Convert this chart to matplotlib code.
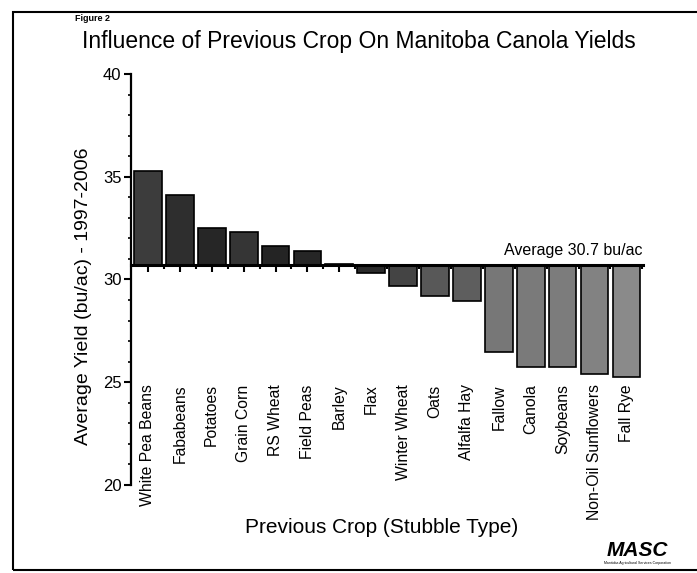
import matplotlib
matplotlib.use("Agg")
import matplotlib.pyplot as plt
from matplotlib.patches import Rectangle
from matplotlib.ticker import MultipleLocator
import numpy as np

plt.rcParams['font.family'] = ['Liberation Sans', 'DejaVu Sans']

# data
crops = ["White Pea Beans", "Fababeans", "Potatoes", "Grain Corn", "RS Wheat",
         "Field Peas", "Barley", "Flax", "Winter Wheat", "Oats", "Alfalfa Hay",
         "Fallow", "Canola", "Soybeans", "Non-Oil Sunflowers", "Fall Rye"]
yields = [35.3, 34.1, 32.5, 32.3, 31.65, 31.4, 30.75, 30.3, 29.7, 29.2, 28.95,
          26.45, 25.75, 25.75, 25.4, 25.25]
average = 30.7

# darker for the top crops, lighter grey toward the poor ones
bar_colors = ["#3c3c3c", "#2e2e2e", "#262626", "#353535", "#242424", "#262626",
              "#222222", "#2a2a2a", "#444444", "#585858", "#5e5e5e", "#777777",
              "#7a7a7a", "#7c7c7c", "#828282", "#8a8a8a"]

fig = plt.figure(figsize=(6.97, 5.73), dpi=100)
ax = fig.add_axes([0.188, 0.1536, 0.7345, 0.7173])

x = np.arange(len(crops))
heights = np.array(yields) - average
ax.bar(x, heights, bottom=average, width=0.87, color=bar_colors,
       edgecolor="black", linewidth=1.2, zorder=2)

ax.set_xlim(-0.53, 15.52)
ax.set_ylim(20, 40)

# y axis: left spine only, outward ticks
ax.spines['top'].set_visible(False)
ax.spines['right'].set_visible(False)
ax.spines['left'].set_linewidth(1.6)
ax.spines['left'].set_bounds(20, 40)
ax.yaxis.set_major_locator(MultipleLocator(5))
ax.yaxis.set_minor_locator(MultipleLocator(1))
ax.tick_params(axis='y', which='major', direction='out', length=5, width=1.5,
               labelsize=12, pad=2)
ax.tick_params(axis='y', which='minor', direction='out', length=2.5, width=1.2)

# x axis sits on the average line
ax.spines['bottom'].set_position(('data', average))
ax.spines['bottom'].set_linewidth(2.2)
ax.spines['bottom'].set_zorder(3)
ax.set_xticks(x)
ax.set_xticks(x + 0.5, minor=True)
ax.tick_params(axis='x', which='major', direction='out', length=5, width=1.5,
               labelbottom=False)
ax.tick_params(axis='x', which='minor', direction='out', length=3, width=1.5,
               labelbottom=False)

for i, name in enumerate(crops):
    ax.text(i, 24.9, name, rotation=90, ha='center', va='top', fontsize=11.3)

ax.text(15.5, average + 0.35, "Average 30.7 bu/ac", ha='right', va='bottom',
        fontsize=11.5)

ax.set_ylabel("Average Yield (bu/ac) - 1997-2006", fontsize=14)
ax.yaxis.set_label_coords(-0.076, 0.46)

fig.text(0.547, 0.08, "Previous Crop (Stubble Type)", ha='center', va='center',
         fontsize=15)
fig.text(0.515, 0.927, "Influence of Previous Crop On Manitoba Canola Yields",
         ha='center', va='center', fontsize=16.5)
fig.text(0.107, 0.968, "Figure 2", ha='left', va='center', fontsize=6.5,
         fontweight='bold')

# logo
fig.text(0.915, 0.04, "MASC", ha='center', va='center', fontsize=15,
         fontweight='bold', style='italic')
fig.text(0.915, 0.017, "Manitoba Agricultural Services Corporation",
         ha='center', va='center', fontsize=2.5)

# page frame
fig.patches.append(Rectangle((0.0187, 0.005), 1.0, 0.974, transform=fig.transFigure,
                             fill=False, edgecolor="black", linewidth=1.5))

fig.savefig("out.png", dpi=100, facecolor="white")
